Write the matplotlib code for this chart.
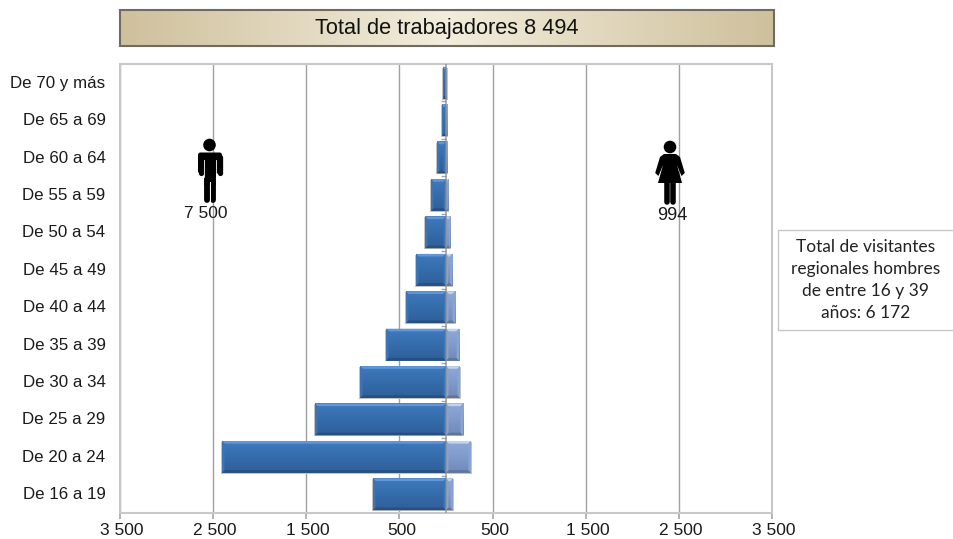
import numpy as np
import matplotlib
matplotlib.use("Agg")
import matplotlib.pyplot as plt
from matplotlib.colors import LinearSegmentedColormap
from matplotlib.patches import Polygon, Rectangle, Circle, FancyBboxPatch
from matplotlib.transforms import ScaledTranslation

# bottom to top
age_groups = ['De 16 a 19', 'De 20 a 24', 'De 25 a 29', 'De 30 a 34', 'De 35 a 39', 'De 40 a 44',
              'De 45 a 49', 'De 50 a 54', 'De 55 a 59', 'De 60 a 64', 'De 65 a 69', 'De 70 y más']
men = [784, 2405, 1406, 923, 644, 430, 322, 225, 161, 97, 43, 32]
women = [75, 268, 183, 150, 140, 97, 65, 43, 22, 11, 11, 8]
x_edges = [-3500, -2500, -1500, -500, 500, 1500, 2500, 3500]
x_labels = ['3 500', '2 500', '1 500', '500', '500', '1 500', '2 500', '3 500']

title = 'Total de trabajadores 8 494'
men_total = '7 500'
women_total = '994'
note = 'Total de visitantes\nregionales hombres\nde entre 16 y 39\naños: 6 172'

W, H = 954, 539
plt.rcParams['font.family'] = ['Liberation Sans', 'DejaVu Sans']

fig = plt.figure(figsize=(W / 100, H / 100), dpi=100)
ax = fig.add_axes([120 / W, 1 - 513 / H, 652 / W, 449 / H])

y = np.arange(len(age_groups))
BAR_H = 0.85
vgrad = np.linspace(0, 1, 64).reshape(-1, 1)


def bevel(bars, cmap, light, dark, side):
    # fake the 3d look of the bars, in data units
    dx, dy = 27, 0.07
    for b in bars:
        x0, x1 = sorted((b.get_x(), b.get_x() + b.get_width()))
        y0, y1 = b.get_y(), b.get_y() + b.get_height()
        ax.imshow(vgrad, extent=(x0, x1, y0, y1), cmap=cmap, aspect='auto', origin='upper', zorder=3.5)
        ins = min(dx, (x1 - x0) / 3)
        ax.add_patch(Polygon([(x0, y1), (x1, y1), (x1 - ins, y1 - dy), (x0 + ins, y1 - dy)], color=light, lw=0, zorder=4))
        ax.add_patch(Polygon([(x0, y0), (x1, y0), (x1 - ins, y0 + dy), (x0 + ins, y0 + dy)], color=dark, lw=0, zorder=4))
        ax.add_patch(Polygon([(x0, y0), (x0, y1), (x0 + ins, y1 - dy), (x0 + ins, y0 + dy)], color=side, lw=0, zorder=4))
        ax.add_patch(Polygon([(x1, y0), (x1, y1), (x1 - ins, y1 - dy), (x1 - ins, y0 + dy)], color=side, lw=0, zorder=4))


# soft shadow behind bars
ax.barh(y - 0.025, -np.array(men) - 15, height=BAR_H, color='#c4c4c4', zorder=2)
ax.barh(y - 0.025, np.array(women) + 15, height=BAR_H, color='#c4c4c4', zorder=2)

men_bars = ax.barh(y, -np.array(men), height=BAR_H, color='#376fb0', zorder=3)
women_bars = ax.barh(y, women, height=BAR_H, color='#7f9bcb', zorder=3)
men_cmap = LinearSegmentedColormap.from_list('m', ['#3f7abd', '#356cab', '#2f5f99'])
women_cmap = LinearSegmentedColormap.from_list('w', ['#8ea9d8', '#7f9bcb', '#7089b8'])
bevel(men_bars, men_cmap, '#5f97da', '#27507f', '#3d74b4')
bevel(women_bars, women_cmap, '#c3d2ee', '#5e759f', '#89a4d2')

ax.set_xlim(-3500, 3500)
ax.set_ylim(-0.5, len(age_groups) - 0.5)
ax.set_xticks(x_edges)
ax.set_xticklabels(x_labels, fontsize=12.5, color='#1a1a1a')
ax.set_yticks(y)
ax.set_yticklabels(age_groups, fontsize=12.2, color='#1a1a1a')
ax.tick_params(axis='y', length=0, pad=10.5)
ax.tick_params(axis='x', length=4, width=1.2, color='#a6a6a6', pad=3.5)
# labels sit a little off their ticks in the original
for lab in ax.get_xticklabels():
    lab.set_transform(lab.get_transform() + ScaledTranslation(2 / 100, 0, fig.dpi_scale_trans))
for lab in ax.get_yticklabels():
    lab.set_transform(lab.get_transform() + ScaledTranslation(0, 1 / 100, fig.dpi_scale_trans))
ax.grid(axis='x', color='#a0a0a0', lw=1.0, zorder=1)
ax.set_axisbelow(True)
for s in ax.spines.values():
    s.set_color('#c8c8c8')
    s.set_linewidth(1.5)

# central axis with its small ticks, over the bars
ax.axvline(0, color='#8c8c8c', lw=1.2, alpha=0.8, zorder=5)
ax.hlines(y[:-1] + 0.5, -50, 0, color='#a6a6a6', lw=1, zorder=1)

# overlay in pixel coordinates for the header, icons and note
ov = fig.add_axes([0, 0, 1, 1], facecolor='none')
ov.axis('off')

# header box
cmap = LinearSegmentedColormap.from_list('tan', ['#cfc09c', '#f2eddc', '#cfc09c'])
grad = np.linspace(0, 1, 256).reshape(1, -1)
ov.imshow(grad, extent=(120, 774, 46, 10), cmap=cmap, aspect='auto', zorder=1)
ov.add_patch(Rectangle((120, 10), 654, 36, fill=False, ec='#6f6b60', lw=1.5, zorder=2))
ov.text(447, 28.5, title, ha='center', va='center', fontsize=15.7, color='#111111', zorder=3)
ov.set_xlim(0, W)
ov.set_ylim(H, 0)

# man icon
ov.add_patch(Circle((209.5, 145), 6.3, color='black', lw=0, zorder=6))
ov.add_patch(FancyBboxPatch((200.5, 155), 19, 16, boxstyle='round,pad=2.5', color='black', lw=0, zorder=6))
ov.plot([200.8, 200.8], [157, 173], color='black', lw=3.8, solid_capstyle='round', zorder=6)
ov.plot([219.6, 219.6], [157, 173], color='black', lw=3.8, solid_capstyle='round', zorder=6)
ov.add_patch(Rectangle((204.3, 165), 11.4, 20, color='black', lw=0, zorder=6))
ov.plot([206.9, 206.9], [175, 200], color='black', lw=4.2, solid_capstyle='round', zorder=6)
ov.plot([212.9, 212.9], [175, 200], color='black', lw=4.2, solid_capstyle='round', zorder=6)
ov.plot([209.9, 209.9], [182, 204], color='white', lw=0.7, zorder=7)
ov.plot([203.9, 203.9], [160, 177], color='white', lw=0.6, zorder=7)
ov.plot([216.4, 216.4], [160, 177], color='white', lw=0.6, zorder=7)

# woman icon
ov.add_patch(Circle((670, 147), 6.3, color='black', lw=0, zorder=6))
ov.add_patch(Polygon([(664, 154), (676, 154), (680, 157), (684.8, 173), (681.5, 176), (677, 165),
                      (682, 183), (658, 183), (663, 165), (658.5, 176), (655.2, 173), (660, 157)],
                     closed=True, color='black', lw=0, zorder=6))
ov.plot([667, 667], [181, 201.5], color='black', lw=4, solid_capstyle='round', zorder=6)
ov.plot([673.3, 673.3], [181, 201.5], color='black', lw=4, solid_capstyle='round', zorder=6)

ov.text(206, 214, men_total, ha='center', va='center', fontsize=12.5, color='#1a1a1a', zorder=6)
ov.text(672, 215, women_total, ha='center', va='center', fontsize=13, color='#1a1a1a', zorder=6)

# note box on the right
ov.add_patch(Rectangle((778, 230), 180, 100, fc='white', ec='#c8c8c8', lw=1, zorder=6))
ov.text(866, 280, note, ha='center', va='center', fontsize=12.5, color='#222222', family='Lato',
        linespacing=1.47, zorder=7)

fig.savefig('out.png', dpi=100)
